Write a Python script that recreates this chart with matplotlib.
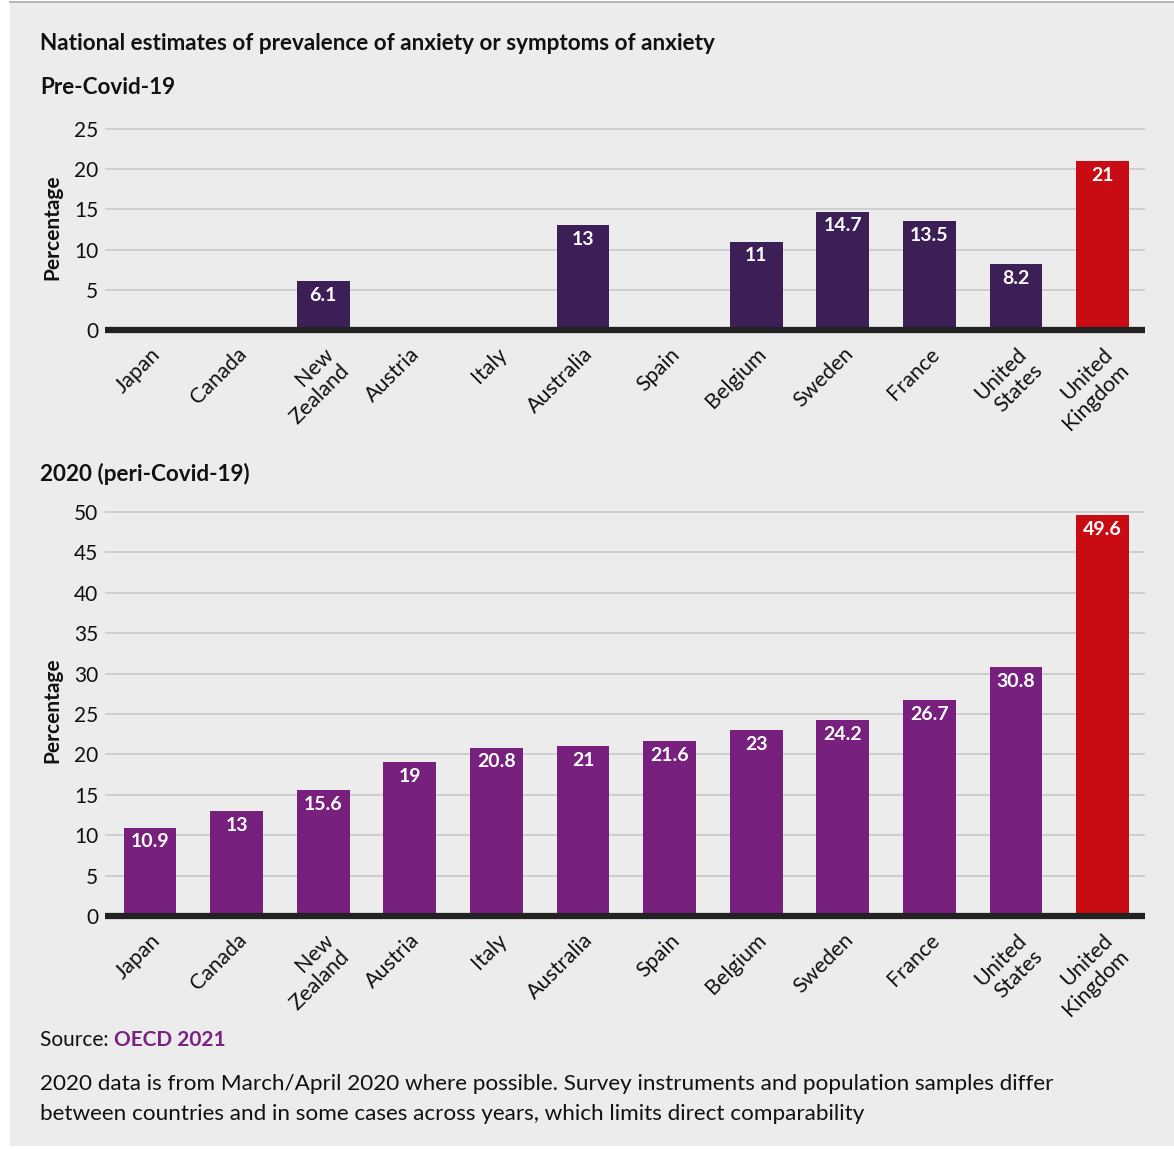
import numpy as np
import matplotlib.pyplot as plt
from matplotlib.patches import Rectangle

plt.rcParams['font.family'] = ['Lato', 'DejaVu Sans']

countries = ["Japan", "Canada", "New\nZealand", "Austria", "Italy", "Australia",
             "Spain", "Belgium", "Sweden", "France", "United\nStates", "United\nKingdom"]
pre_covid = [None, None, 6.1, None, None, 13, None, 11, 14.7, 13.5, 8.2, 21]
peri_covid = [10.9, 13, 15.6, 19, 20.8, 21, 21.6, 23, 24.2, 26.7, 30.8, 49.6]

BG = "#ececec"
GRID = "#c8c8c8"
DARK_PURPLE = "#3b1f56"
PURPLE = "#77207e"
RED = "#c90c14"
TEXT = "#111111"

W, H = 1174, 1149
fig = plt.figure(figsize=(W / 100, H / 100), dpi=100, facecolor="white")
fig.patches.append(Rectangle((10 / W, 3 / H), 1 - 10 / W, 1 - 6 / H,
                             transform=fig.transFigure, facecolor=BG,
                             edgecolor="none", zorder=-10))
fig.add_artist(plt.Line2D([10 / W, 1], [1 - 2 / H, 1 - 2 / H],
                          transform=fig.transFigure, color="#a8a8a8", lw=1.2))


def px_axes(left, right, y0, px_per_unit, ymax):
    top = y0 - ymax * px_per_unit
    return fig.add_axes([left / W, 1 - y0 / H, (right - left) / W, (y0 - top) / H])


def draw_panel(ax, values, base_color, ymax, step):
    x = np.arange(len(countries))
    vals = [np.nan if v is None else v for v in values]
    colors = [RED if c == "United\nKingdom" else base_color for c in countries]
    ax.bar(x, vals, width=0.61, color=colors, zorder=2)
    for xi, v in zip(x, values):
        if v is None:
            continue
        ax.annotate(f"{v:g}", (xi, v), xytext=(0, -4), textcoords="offset points",
                    ha="center", va="top", color="white", fontsize=14,
                    fontweight="bold", zorder=3)
    ax.set_facecolor(BG)
    ax.set_xlim(-0.52, len(countries) - 0.51)
    ax.set_ylim(0, ymax)
    ax.set_yticks(np.arange(0, ymax, step))
    ax.yaxis.grid(True, color=GRID, lw=1.2, zorder=0)
    ax.axhline(0, color="#222222", lw=4.5, zorder=4, solid_capstyle="butt",
               clip_on=False)
    for s in ax.spines.values():
        s.set_visible(False)
    ax.tick_params(axis="both", length=0, labelsize=15, colors=TEXT)
    ax.tick_params(axis="y", pad=5)
    ax.set_xticks(x)
    ax.set_xticklabels(countries, rotation=45, ha="right", va="top",
                       rotation_mode="anchor", fontsize=15.5)
    ax.tick_params(axis="x", pad=10)
    ax.set_ylabel("Percentage", fontsize=15, fontweight="bold", color=TEXT)
    ax.yaxis.set_label_coords(-0.041, 0.5)


ax1 = px_axes(105, 1145, 330, 8.04, 25.5)
draw_panel(ax1, pre_covid, DARK_PURPLE, 25.5, 5)

ax2 = px_axes(105, 1145, 916, 8.08, 51)
draw_panel(ax2, peri_covid, PURPLE, 51, 5)

fig.text(40 / W, 1 - 43 / H, "National estimates of prevalence of anxiety or symptoms of anxiety",
         fontsize=16.2, fontweight="bold", va="center", color=TEXT)
fig.text(40 / W, 1 - 87 / H, "Pre-Covid-19", fontsize=16.2, fontweight="bold",
         va="center", color=TEXT)
fig.text(40 / W, 1 - 474 / H, "2020 (peri-Covid-19)", fontsize=16.2, fontweight="bold",
         va="center", color=TEXT)

src = fig.text(40 / W, 1 - 1040 / H, "Source: ", fontsize=15, va="center", color=TEXT)
fig.canvas.draw()
bb = src.get_window_extent()
fig.text(bb.x1 / W, 1 - 1040 / H, "OECD 2021", fontsize=15, fontweight="bold",
         va="center", color="#7b2182")

notes = ["2020 data is from March/April 2020 where possible. Survey instruments and population samples differ",
         "between countries and in some cases across years, which limits direct comparability"]
for i, line in enumerate(notes):
    fig.text(40 / W, 1 - (1084 + 30 * i) / H, line, fontsize=16.2, va="center", color=TEXT)

fig.savefig("out.png", dpi=100, facecolor="white")
